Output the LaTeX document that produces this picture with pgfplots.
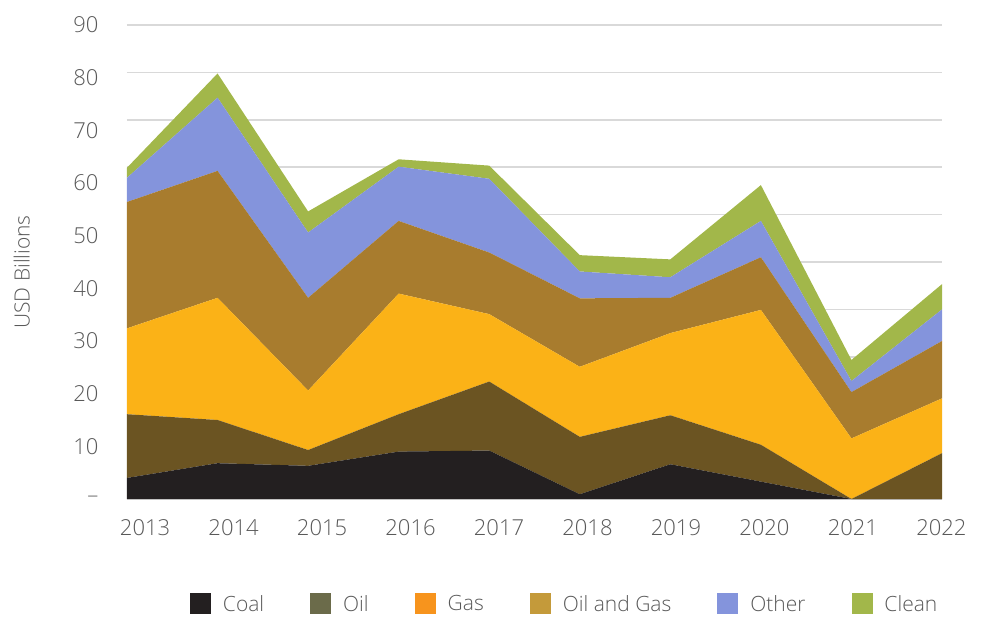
\documentclass[border=0pt]{standalone}
\usepackage{pgfplots}
\pgfplotsset{compat=1.18}
\usepackage{fontspec}
\setmainfont{Open Sans}[UprightFont=* Light]
\usetikzlibrary{calc}
\definecolor{txt}{HTML}{595959}
\definecolor{gridc}{HTML}{D9D9D9}
\definecolor{cCoal}{HTML}{231F20}
\definecolor{cOil}{HTML}{6B5422}
\definecolor{cGas}{HTML}{FBB217}
\definecolor{cOG}{HTML}{A87C2E}
\definecolor{cOther}{HTML}{8494DC}
\definecolor{cClean}{HTML}{A2B74A}
\definecolor{lOil}{HTML}{6B6B4A}
\definecolor{lGas}{HTML}{F7941D}
\definecolor{lOG}{HTML}{C49A3A}
\begin{document}
\begin{tikzpicture}[font=\fontsize{21bp}{25bp}\selectfont]
\begin{axis}[
  scale only axis, width=815bp, height=474bp,
  xmin=0, xmax=9, ymin=0, ymax=90,
  stack plots=y,
  axis line style={draw=none},
  major tick length=0pt,
  xtick={0.2,1.177,2.154,3.131,4.108,5.085,6.062,7.039,8.016,8.993},
  xticklabels={2013,2014,2015,2016,2017,2018,2019,2020,2021,2022},
  ytick={0,10,...,90},
  yticklabels={\textendash,10,20,30,40,50,60,70,80,90},
  extra y ticks={0,9,...,90},
  extra y tick labels={},
  extra y tick style={ymajorgrids=true, major grid style={draw=gridc, line width=1.5bp}},
  ymajorgrids=false,
  /pgf/number format/assume math mode=true,
  tick label style={text=txt, font=\fontsize{22bp}{26bp}\selectfont},
  xticklabel style={yshift=-17bp},
  yticklabel style={xshift=-25bp},
  ylabel={USD Billions},
  ylabel style={text=txt, at={(axis description cs:-0.129,0.479)}, anchor=center, rotate=0},
  legend columns=6,
  legend style={draw=none, fill=none, text=txt, at={(rel axis cs:0.537,-0.2215)}, anchor=center,
    /tikz/every odd column/.append style={column sep=10bp},
    /tikz/every even column/.append style={column sep=44bp}},
  legend cell align=left,
]
\addplot[fill=cCoal, draw=none, legend image code/.code={\fill[cCoal] (0bp,-10.5bp) rectangle (21bp,10.5bp);}]
 coordinates {(0,4.0) (1,6.8) (2,6.3) (3,9.0) (4,9.2) (5,0.9) (6,6.6) (7,3.3) (8,0) (9,0)} \closedcycle;
\addlegendentry{Coal}
\addplot[fill=cOil, draw=none, legend image code/.code={\fill[lOil] (0bp,-10.5bp) rectangle (21bp,10.5bp);}]
 coordinates {(0,12.1) (1,8.2) (2,3.0) (3,7.1) (4,13.1) (5,10.9) (6,9.3) (7,7.0) (8,0) (9,8.7)} \closedcycle;
\addlegendentry{Oil}
\addplot[fill=cGas, draw=none, legend image code/.code={\fill[lGas] (0bp,-10.5bp) rectangle (21bp,10.5bp);}]
 coordinates {(0,16.3) (1,23.2) (2,11.3) (3,22.9) (4,12.8) (5,13.3) (6,15.6) (7,25.6) (8,11.5) (9,10.4)} \closedcycle;
\addlegendentry{Gas}
\addplot[fill=cOG, draw=none, legend image code/.code={\fill[lOG] (0bp,-10.5bp) rectangle (21bp,10.5bp);}]
 coordinates {(0,24.0) (1,24.1) (2,17.6) (3,13.8) (4,11.7) (5,13.0) (6,6.7) (7,10.0) (8,8.8) (9,10.9)} \closedcycle;
\addlegendentry{Oil and Gas}
\addplot[fill=cOther, draw=none, legend image code/.code={\fill[cOther] (0bp,-10.5bp) rectangle (21bp,10.5bp);}]
 coordinates {(0,4.6) (1,13.9) (2,12.4) (3,10.3) (4,14.0) (5,5.1) (6,3.9) (7,6.9) (8,2.1) (9,6.0)} \closedcycle;
\addlegendentry{Other}
\addplot[fill=cClean, draw=none, legend image code/.code={\fill[cClean] (0bp,-10.5bp) rectangle (21bp,10.5bp);}]
 coordinates {(0,1.9) (1,4.6) (2,4.0) (3,1.4) (4,2.5) (5,3.1) (6,3.4) (7,6.8) (8,4.0) (9,4.8)} \closedcycle;
\addlegendentry{Clean}
\end{axis}
\pgfresetboundingbox
\path[use as bounding box] ($(current axis.south west)+(-127bp,-118bp)$) rectangle ($(current axis.north east)+(44bp,25bp)$);
\end{tikzpicture}
\end{document}
